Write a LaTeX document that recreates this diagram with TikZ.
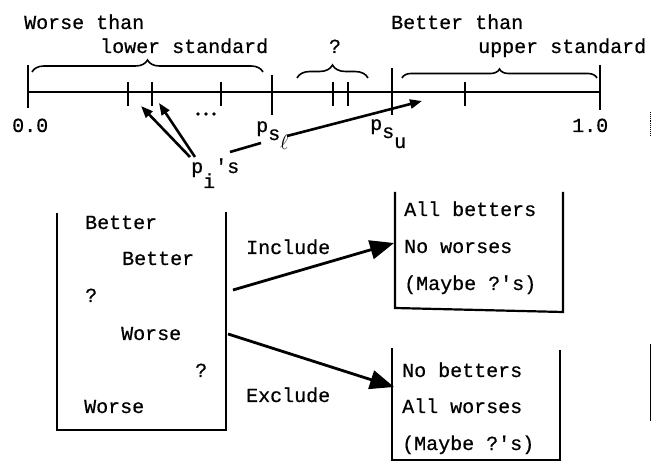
\documentclass[tikz,border=0pt]{standalone}
\usepackage{fontspec}
\newfontfamily\tw[FakeBold=0.6]{Liberation Mono}
\usetikzlibrary{arrows.meta,decorations.pathreplacing}
\begin{document}
\begin{tikzpicture}[x=1pt,y=-1pt,
  txt/.style={font=\tw\fontsize{20}{24}\selectfont, inner sep=0pt, anchor=base west},
  axis/.style={line width=2.2pt},
  tick/.style={line width=2.2pt},
  bracepath/.style={line width=1.6pt, decorate, decoration={brace, amplitude=#1}},
  boxline/.style={line width=2.2pt},
  smallarrow/.style={line width=2.6pt, -{Triangle[length=12pt,width=9pt]}},
  bigarrow/.style={line width=2.8pt, -{Triangle[length=24pt,width=19pt]}},
  plain/.style={line width=2.6pt},
  artifact/.style={line width=0.9pt, densely dotted}]
\useasboundingbox (0,0) rectangle (665,465);

% axis
\coordinate (a0) at (28,92);
\coordinate (a1) at (600,92);
\draw[axis] (a0) -- (a1);
\draw[tick] (28,65) -- (28,108);
\draw[tick] (600,65) -- (600,110);
\draw[tick] (272,75) -- (272,115);
\draw[tick] (392,68) -- (392,115);
\foreach \x in {128,152,221,333,348,465} \draw[tick] (\x,82) -- (\x,106);
\foreach \x in {198,206,214} \fill (\x,114) circle (1.8pt);

% braces
\draw[bracepath=12pt] (32,72) -- (263,72);
\draw[bracepath=13pt] (297,78) -- (368,78);
\draw[bracepath=9pt] (402,78) -- (597,78);

% top labels
\node[txt] (worse1) at (24,29) {Worse than};
\node[txt] (worse2) at (100,53) {lower standard};
\node[txt, anchor=base] (mid) at (335,53) {?};
\node[txt] (better1) at (391,29) {Better than};
\node[txt] (better2) at (478,53) {upper standard};
\node[txt] (zero) at (12,132) {0.0};
\node[txt] (one) at (572,132) {1.0};

% p labels
\node[txt] (psl) at (256,132) {p\raisebox{-8pt}{s\raisebox{-10pt}{$\ell$}}};
\node[txt] (psu) at (370,130) {p\raisebox{-8pt}{s\raisebox{-10pt}{u}}};
\node[txt] (pis) at (191,173) {p\raisebox{-15pt}{i}'s};

% arrows of top part
\coordinate (pi1) at (190,157);
\coordinate (pi2) at (195,157);
\coordinate (t1) at (141,106);
\coordinate (t2) at (159,103);
\draw[smallarrow] (pi1) -- (t1);
\draw[smallarrow] (pi2) -- (t2);
\coordinate (s1) at (230,152);
\coordinate (s2) at (261,143);
\coordinate (s3) at (287,136);
\coordinate (s4) at (422,101);
\draw[plain] (s1) -- (s2);
\draw[smallarrow] (s3) -- (s4);

% left box
\draw[boxline] (57,213) -- (57,430) -- (226,430) -- (226,212);
\node[txt] (l1) at (85,229) {Better};
\node[txt] (l2) at (122,265) {Better};
\node[txt] (l3) at (85,302) {?};
\node[txt] (l4) at (121,340) {Worse};
\node[txt] (l5) at (195,377) {?};
\node[txt] (l6) at (84,413) {Worse};

% right boxes
\draw[boxline] (395,192) -- (395,308) -- (563,312) -- (563,192);
\node[txt] (r1) at (404,216) {All betters};
\node[txt] (r2) at (404,253) {No worses};
\node[txt] (r3) at (404,290) {(Maybe ?'s)};

\draw[boxline] (392,348) -- (392,460) -- (560,460) -- (560,350);
\node[txt] (q1) at (402,377) {No betters};
\node[txt] (q2) at (402,413) {All worses};
\node[txt] (q3) at (402,450) {(Maybe ?'s)};

% include / exclude
\node[txt] (inc) at (246,254) {Include};
\node[txt] (exc) at (246,402) {Exclude};
\coordinate (incs) at (233,290);
\coordinate (inct) at (394,243);
\coordinate (excs) at (228,334);
\coordinate (exct) at (394,387);
\draw[bigarrow] (incs) -- (inct);
\draw[bigarrow] (excs) -- (exct);

% scan marks at right margin
\draw[artifact] (650,112) -- (650,136);
\draw[line width=1pt] (650,344) -- (650,421);
\end{tikzpicture}
\end{document}
